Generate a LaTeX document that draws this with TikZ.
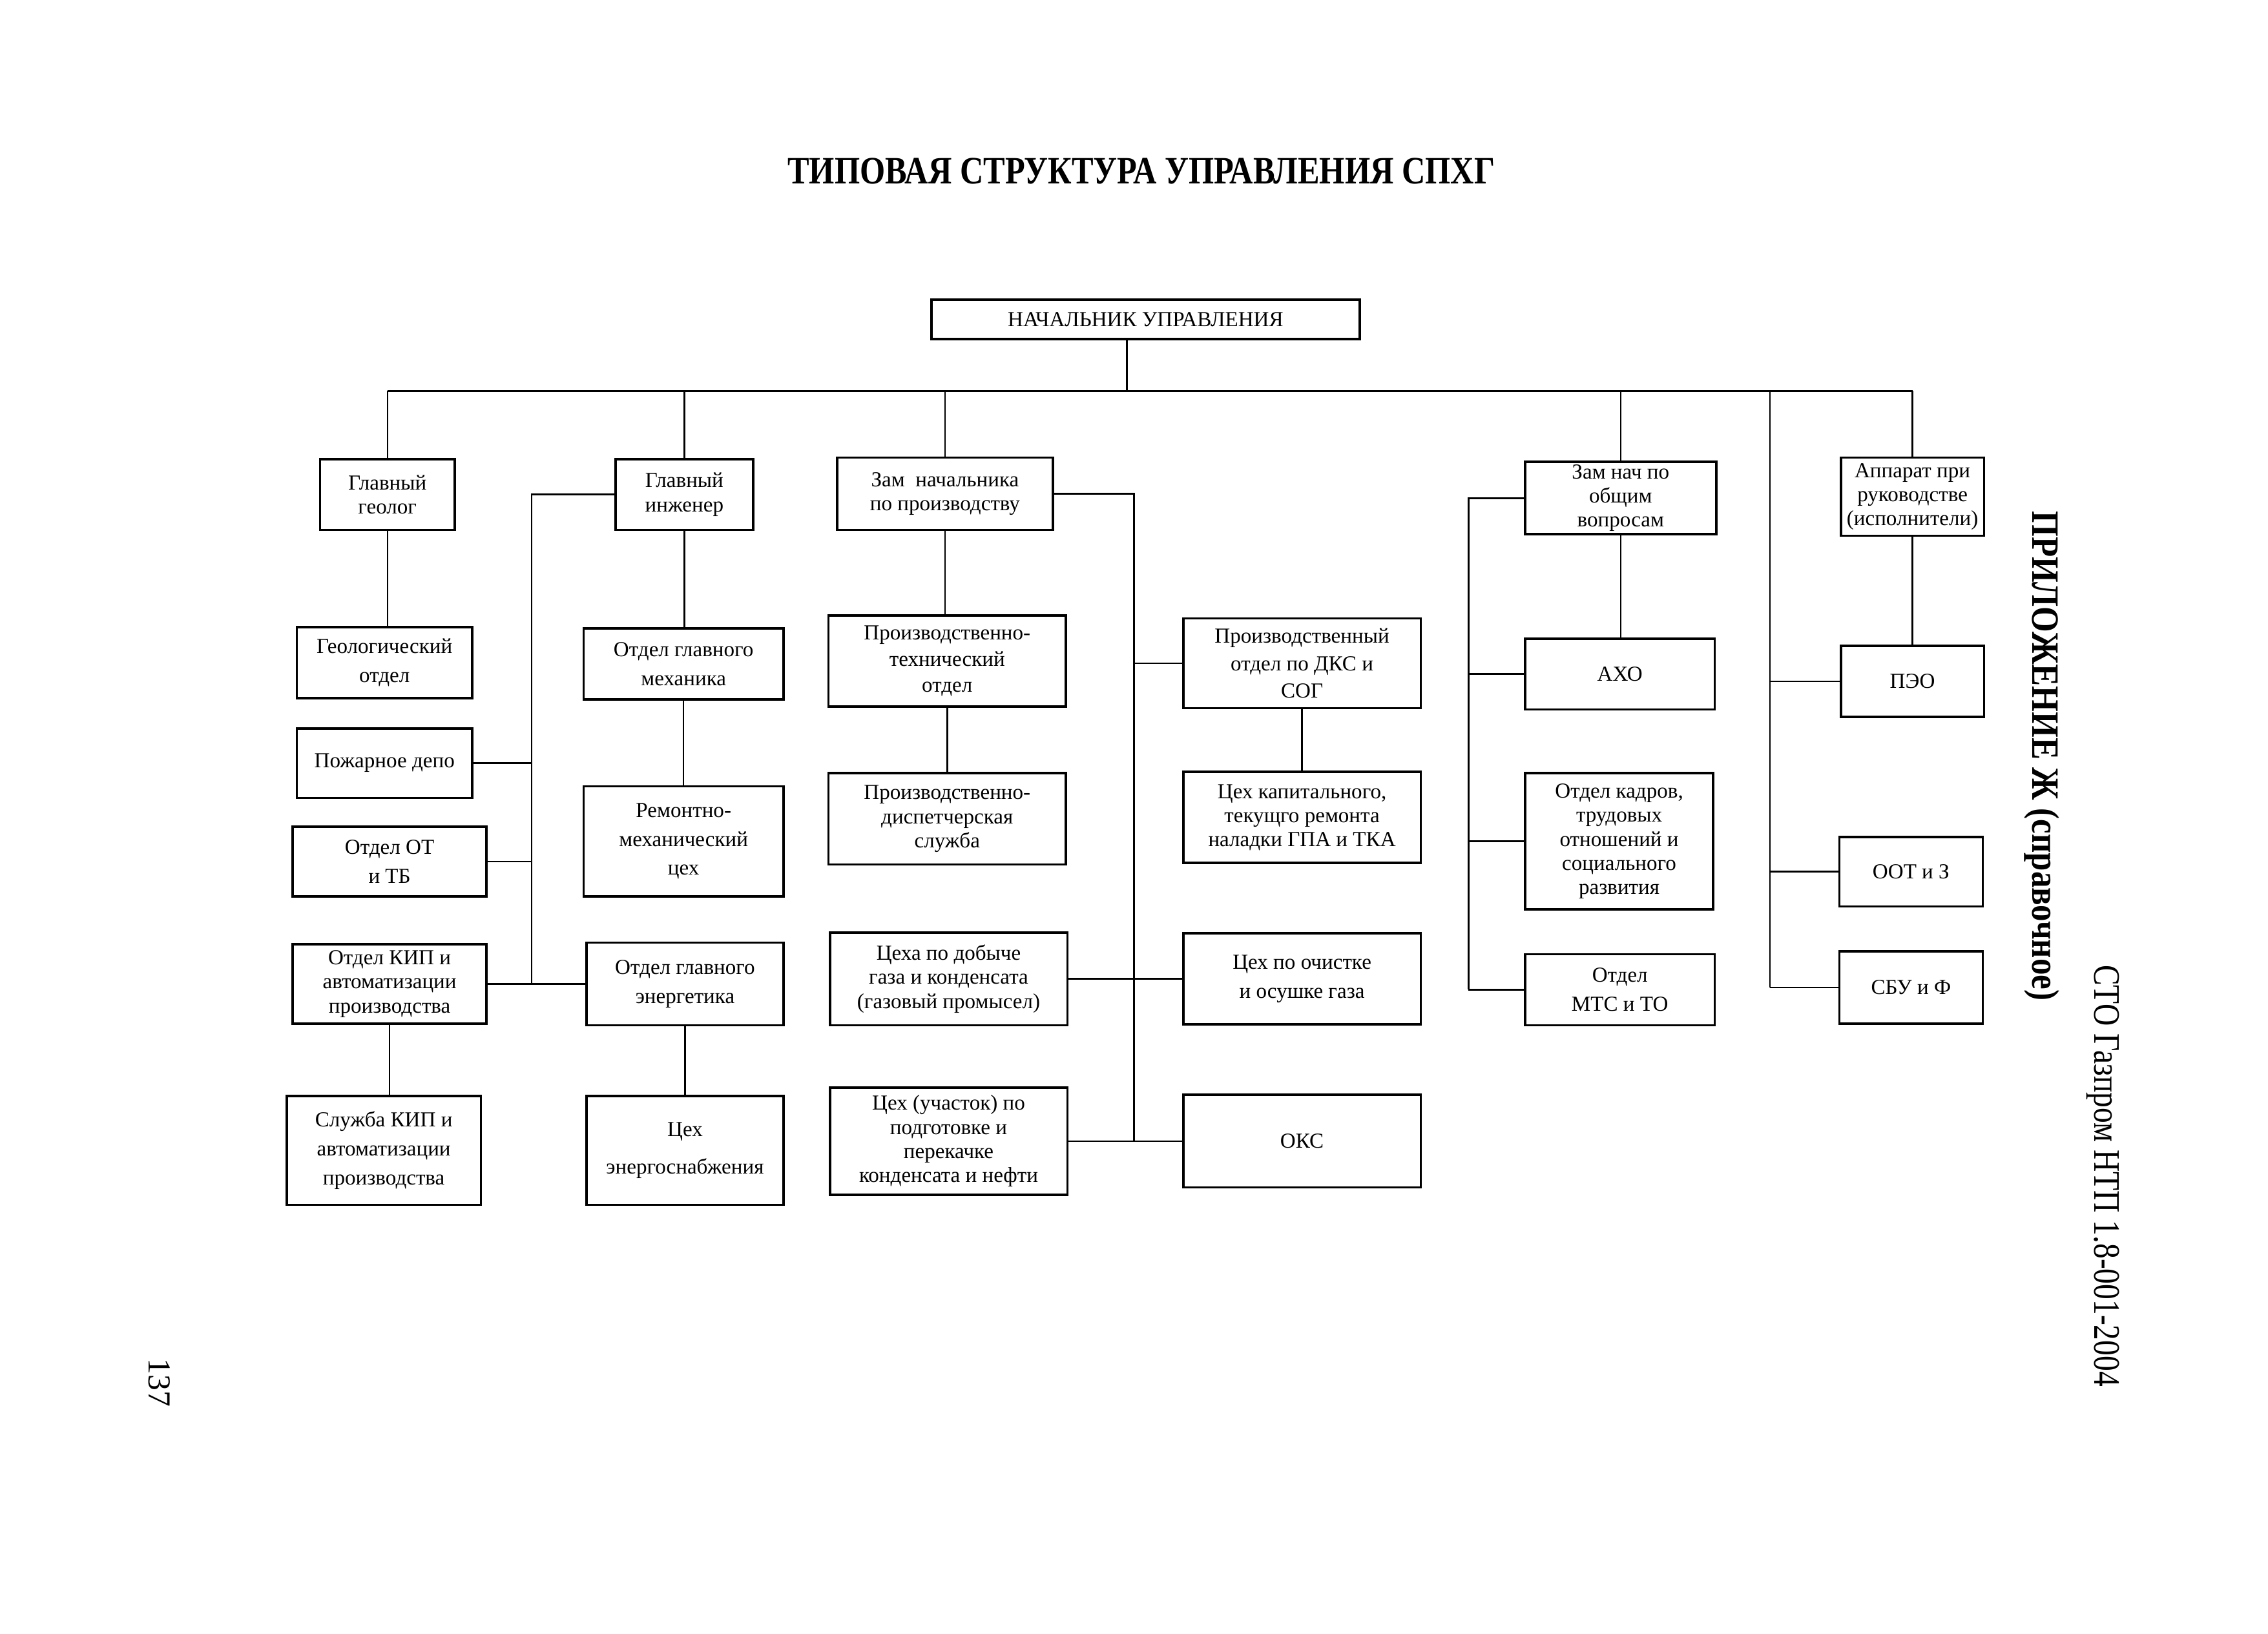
\documentclass[tikz,border=0pt]{standalone}
\usepackage{fontspec}
\setmainfont{Liberation Serif}
\begin{document}
\begin{tikzpicture}[x=0.542pt,y=-0.542pt,
  box/.style={draw, line width=0.9pt, inner sep=0pt, align=center, font=\fontsize{8}{9}\selectfont},
  sz/.style 2 args={minimum width={(#1)*0.542pt}, minimum height={(#2)*0.542pt}},
  wl/.style={font=\fontsize{8}{10.8}\selectfont},
  conn/.style={line width=0.6pt}]
\useasboundingbox (0,0) rectangle (1566,1128.4);

% titles and margin texts
\node[font=\bfseries\fontsize{14.5}{16}\selectfont] (title) at (788,118) {\scalebox{0.84}[1]{ТИПОВАЯ СТРУКТУРА УПРАВЛЕНИЯ СПХГ}};
\node[rotate=-90, font=\bfseries\fontsize{14.5}{16}\selectfont] (app) at (1410,522) {\scalebox{0.85}[1]{ПРИЛОЖЕНИЕ Ж (справочное)}};
\node[rotate=-90, font=\fontsize{14}{16}\selectfont] (sto) at (1452,812) {\scalebox{0.82}[1]{СТО Газпром НТП 1.8-001-2004}};
\node[rotate=-90, font=\fontsize{12}{14}\selectfont] (pg) at (110,955) {137};

% top
\node[box,sz={296}{27}] (top) at (791,220.5) {НАЧАЛЬНИК УПРАВЛЕНИЯ};

% first row
\node[box,sz={93}{49}] (g1) at (267.5,341.5) {Главный\\геолог};
\node[box,sz={95}{49}] (g2) at (472.5,341.5) {Главный\\инженер};
\node[box,sz={149}{50}] (g3) at (652.5,341) {Зам~~начальника\\по производству};
\node[box,sz={132}{50}] (g5) at (1119,344) {Зам нач по\\общим\\вопросам};
\node[box,sz={99}{54}] (g6) at (1320.5,343) {Аппарат при\\руководстве\\(исполнители)};

% column 1
\node[box,wl,sz={121}{49}] (c1a) at (265.5,457.5) {Геологический\\отдел};
\node[box,sz={121}{48}] (c1b) at (265.5,527) {Пожарное депо};
\node[box,wl,sz={134}{48}] (c1c) at (269,595) {Отдел ОТ\\и ТБ};
\node[box,sz={134}{55}] (c1d) at (269,679.5) {Отдел КИП и\\автоматизации\\производства};
\node[box,wl,sz={134}{75}] (c1e) at (265,794.5) {Служба КИП и\\автоматизации\\производства};

% column 2
\node[box,wl,sz={138}{49}] (c2a) at (472,458.5) {Отдел главного\\механика};
\node[box,wl,sz={138}{76}] (c2b) at (472,581) {Ремонтно-\\механический\\цех};
\node[box,wl,sz={136}{57}] (c2c) at (473,679.5) {Отдел главного\\энергетика};
\node[box,font=\fontsize{8}{14}\selectfont,sz={136}{75}] (c2d) at (473,794.5) {Цех\\энергоснабжения};

% column 3
\node[box,font=\fontsize{8}{9.8}\selectfont,sz={164}{63}] (c3a) at (654,456.5) {Производственно-\\технический\\отдел};
\node[box,sz={164}{63}] (c3b) at (654,565.5) {Производственно-\\диспетчерская\\служба};
\node[box,sz={164}{64}] (c3c) at (655,676) {Цеха по добыче\\газа и конденсата\\(газовый промысел)};
\node[box,sz={164}{74}] (c3d) at (655,788) {Цех (участок) по\\подготовке и\\перекачке\\конденсата и нефти};

% column 4
\node[box,font=\fontsize{8}{10.3}\selectfont,sz={164}{62}] (c4a) at (899,458) {Производственный\\отдел по ДКС и\\СОГ};
\node[box,sz={164}{63}] (c4b) at (899,564.5) {Цех капитального,\\текущго ремонта\\наладки ГПА и ТКА};
\node[box,wl,sz={164}{63}] (c4c) at (899,676) {Цех по очистке\\и осушке газа};
\node[box,sz={164}{64}] (c4d) at (899,788) {ОКС};

% column 5
\node[box,sz={131}{49}] (c5a) at (1118.5,465.5) {АХО};
\node[box,sz={130}{94}] (c5b) at (1118,581) {Отдел кадров,\\трудовых\\отношений и\\социального\\развития};
\node[box,wl,sz={131}{49}] (c5c) at (1118.5,683.5) {Отдел\\МТС и ТО};

% column 6
\node[box,sz={99}{49}] (c6a) at (1320.5,470.5) {ПЭО};
\node[box,sz={99}{48}] (c6b) at (1319.5,602) {ООТ и З};
\node[box,sz={99}{50}] (c6c) at (1319.5,682) {СБУ и Ф};

% connectors
\coordinate (bus) at (0,270);
\draw[conn] (g1.north |- bus) -- (g6.north |- bus);
\draw[conn] ([xshift={-13*0.542pt}]top.south) -- ([xshift={-13*0.542pt}]top.south |- bus);
\foreach \n in {g1,g2,g3,g5,g6} \draw[conn] (\n.north) -- (\n.north |- bus);

% vertical chains
\draw[conn] (g1.south) -- (g1.south |- c1a.north);
\draw[conn] (c1d.south) -- (c1d.south |- c1e.north);
\draw[conn] (g2.south) -- (g2.south |- c2a.north);
\draw[conn] (c2a.south) -- (c2a.south |- c2b.north);
\draw[conn] (c2c.south) -- (c2c.south |- c2d.north);
\draw[conn] (g3.south) -- (g3.south |- c3a.north);
\draw[conn] (c3a.south) -- (c3a.south |- c3b.north);
\draw[conn] (c4a.south) -- (c4a.south |- c4b.north);
\draw[conn] (g5.south) -- (g5.south |- c5a.north);
\draw[conn] (g6.south) -- (g6.south |- c6a.north);

% engineer side bus
\coordinate (lb2) at (367,679.5);
\draw[conn] (g2.west) -| (lb2);
\draw[conn] (c1b.east) -- (c1b.east -| lb2);
\draw[conn] (c1c.east) -- (c1c.east -| lb2);
\draw[conn] (c1d.east) -- (c2c.west);

% production deputy side bus
\coordinate (rb3) at (783,788);
\draw[conn] (g3.east) -| (rb3);
\draw[conn] (c4a.west) -- (c4a.west -| rb3);
\draw[conn] (c3c.east) -- (c4c.west);
\draw[conn] (c3d.east) -- (c4d.west);

% general deputy side bus
\coordinate (lb5) at (1014,683.5);
\draw[conn] (g5.west) -| (lb5);
\draw[conn] (c5a.west) -- (c5a.west -| lb5);
\draw[conn] (c5b.west) -- (c5b.west -| lb5);
\draw[conn] (c5c.west) -- (c5c.west -| lb5);

% staff bus
\coordinate (rb6) at (1222,682);
\draw[conn] (rb6 |- bus) -- (rb6);
\draw[conn] (c6a.west) -- (c6a.west -| rb6);
\draw[conn] (c6b.west) -- (c6b.west -| rb6);
\draw[conn] (c6c.west) -- (c6c.west -| rb6);
\end{tikzpicture}
\end{document}
